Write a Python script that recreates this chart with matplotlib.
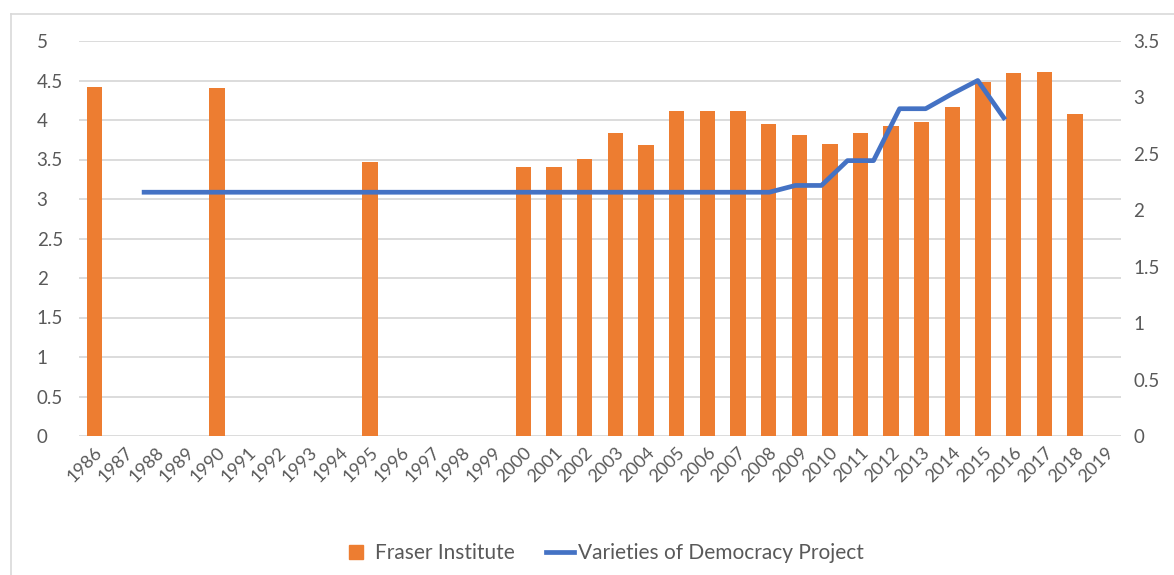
import matplotlib
matplotlib.use("Agg")
import matplotlib.pyplot as plt
import numpy as np
from matplotlib.lines import Line2D
from matplotlib import font_manager

# ---------------- data ----------------
years = [str(y) for y in range(1986, 2020)]
fraser = [4.42, np.nan, np.nan, np.nan, 4.40, np.nan, np.nan, np.nan, np.nan, 3.47,
          np.nan, np.nan, np.nan, np.nan, 3.40, 3.40, 3.51, 3.84, 3.68, 4.11,
          4.11, 4.11, 3.95, 3.81, 3.70, 3.83, 3.93, 3.97, 4.16, 4.48,
          4.60, 4.61, 4.08, np.nan]
vdem = [2.16, 2.16, 2.16, 2.16, 2.16, 2.16, 2.16, 2.16, 2.16, 2.16,
        2.16, 2.16, 2.16, 2.16, 2.16, 2.16, 2.16, 2.16, 2.16, 2.16,
        2.16, 2.16, 2.16, 2.16, 2.16, 2.22, 2.22, 2.44, 2.44, 2.90,
        2.90, 3.03, 3.15, 2.82]
left_ticks = [0, 0.5, 1, 1.5, 2, 2.5, 3, 3.5, 4, 4.5, 5]
left_labels = ["0", "0.5", "1", "1.5", "2", "2.5", "3", "3.5", "4", "4.5", "5"]
right_ticks = [0, 0.5, 1, 1.5, 2, 2.5, 3, 3.5]
right_labels = ["0", "0.5", "1", "1.5", "2", "2.5", "3", "3.5"]
series_names = ["Fraser Institute", "Varieties of Democracy Project"]

# ---------------- style ----------------
names = {f.name for f in font_manager.fontManager.ttflist}
family = "Lato" if "Lato" in names else "DejaVu Sans"
plt.rcParams['font.family'] = [family, 'DejaVu Sans']

ORANGE = "#ED7D31"
BLUE = "#4472C4"
GRID = "#D9D9D9"
TXT = "#595959"
FS = 13.5

W, H = 1174, 575
fig = plt.figure(figsize=(W / 100, H / 100), dpi=100)
fig.patch.set_facecolor("white")

# chart area border (top & left visible)
fig.add_artist(Line2D([11 / W, 11 / W], [0, 1 - 14 / H], transform=fig.transFigure, color=GRID, lw=1.2))
fig.add_artist(Line2D([11 / W, 1], [1 - 14 / H, 1 - 14 / H], transform=fig.transFigure, color=GRID, lw=1.2))

left, right, top, bottom = 79, 1121, 41, 436
rect = [left / W, 1 - bottom / H, (right - left) / W, (bottom - top) / H]

ax = fig.add_axes(rect)
x = np.arange(len(years))
ax.bar(x, fraser, width=0.5, color=ORANGE, zorder=2)
ax.set_xlim(-0.5, len(years) - 0.5)
ax.set_ylim(0, 5)
ax.set_yticks(left_ticks)
ax.set_yticklabels(left_labels)
ax.yaxis.grid(True, color=GRID, lw=1.3, zorder=0)
ax.set_axisbelow(True)
for s in ax.spines.values():
    s.set_visible(False)
ax.tick_params(axis='y', length=0, pad=30.5, labelsize=FS, labelcolor=TXT)
for lab in ax.get_yticklabels():
    lab.set_ha('left')
ax.set_xticks(x)
ax.set_xticklabels(years, rotation=45, ha='right', rotation_mode='anchor')
ax.tick_params(axis='x', length=0, pad=6, labelsize=13, labelcolor=TXT)

# secondary axes for the line series
ax2 = fig.add_axes(rect, frameon=False)
ax2.patch.set_visible(False)
ax2.plot(np.arange(len(vdem)), vdem, color=BLUE, lw=3.4, solid_joinstyle='round', zorder=3)
ax2.set_xlim(-2.5, 37.5)
ax2.set_ylim(0, 3.5)
ax2.set_xticks([])
ax2.yaxis.tick_right()
ax2.set_yticks(right_ticks)
ax2.set_yticklabels(right_labels)
ax2.tick_params(axis='y', length=0, pad=9, labelsize=FS, labelcolor=TXT)
for lab in ax2.get_yticklabels():
    lab.set_ha('left')

handles = [Line2D([], [], marker='s', color=ORANGE, ls='none', markersize=10.5),
           Line2D([], [], color=BLUE, lw=3.4)]
leg = fig.legend(handles, series_names, loc='center', bbox_to_anchor=(603 / W, 22 / H), ncol=2,
                 frameon=False, fontsize=15, labelcolor=TXT, handlelength=1.35,
                 handletextpad=0.2, columnspacing=1.5)

fig.savefig("out.png", dpi=100)
